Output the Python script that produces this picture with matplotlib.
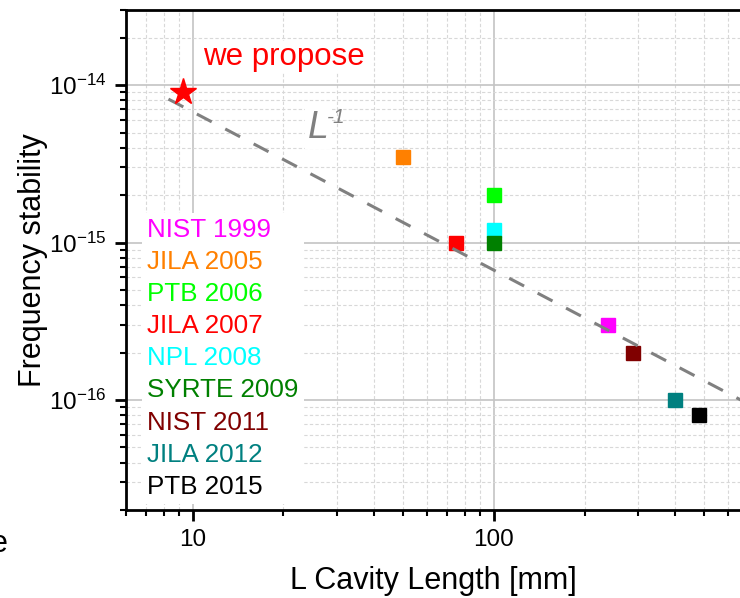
import matplotlib
matplotlib.use("Agg")
import matplotlib.pyplot as plt
from matplotlib.lines import Line2D
from matplotlib.ticker import LogLocator, NullFormatter

plt.rcParams["font.family"] = ["Liberation Sans", "DejaVu Sans"]
plt.rcParams["mathtext.fontset"] = "custom"
plt.rcParams["mathtext.rm"] = "Liberation Sans"
plt.rcParams["mathtext.it"] = "Liberation Sans:italic"


# published cavities
labels = ["NIST 1999", "JILA 2005", "PTB 2006", "JILA 2007", "NPL 2008",
          "SYRTE 2009", "NIST 2011", "JILA 2012", "PTB 2015"]
length_mm = [240, 50, 100, 75, 100, 100, 290, 400, 480]
stability = [3.0e-16, 3.5e-15, 2.0e-15, 1.0e-15, 1.2e-15, 1.0e-15,
             2.0e-16, 1.0e-16, 8.0e-17]
colors = ["#ff00ff", "#ff8000", "#00ff00", "#ff0000", "#00ffff",
          "#008000", "#800000", "#008080", "#000000"]

# proposed cavity
proposed_L = [9.3]
proposed_stab = [9.0e-15]

# L^-1 guide line (end points)
fit_L = [8.3, 660]
fit_stab = [8.15e-15, 1.0e-16]


fig = plt.figure(figsize=(7.4, 5.98), dpi=100)
ax = fig.add_axes([126 / 740, 88 / 598, 614 / 740, 500 / 598])

ax.set_xscale("log")
ax.set_yscale("log")
ax.set_xlim(6, 656)
ax.set_ylim(2e-17, 3e-14)

for L, s, c in zip(length_mm, stability, colors):
    ax.plot([L], [s], marker="s", ms=10, color=c, ls="none", zorder=3)

ax.plot(fit_L, fit_stab, color="#808080", lw=2.2, dashes=(5.5, 5), zorder=4)
ax.plot(proposed_L, proposed_stab, marker="*", ms=20, color="red",
        ls="none", zorder=5)

ax.text(10.8, 1.34e-14, "we propose", color="red", fontsize=22.5,
        ha="left", va="baseline",
        bbox=dict(fc="white", ec="none", pad=1))
ax.text(24.1, 4.6e-15, "L", color="#808080", fontsize=27, style="italic",
        ha="left", va="baseline",
        bbox=dict(fc="white", ec="none", pad=2))
ax.annotate("-1", xy=(24.1, 4.6e-15), xytext=(14, 11),
            textcoords="offset points", color="#808080", fontsize=15,
            style="italic", ha="left", va="baseline")

# grid
ax.set_axisbelow(True)
ax.grid(True, which="major", color="#c4c4c4", lw=1.2, ls="-")
ax.grid(True, which="minor", color="#d8d8d8", lw=0.8, ls=(0, (3, 2)))

# ticks
ax.set_xticks([10, 100], ["10", "100"])
ax.xaxis.set_minor_locator(LogLocator(subs=range(2, 10)))
ax.xaxis.set_minor_formatter(NullFormatter())
ax.yaxis.set_minor_locator(LogLocator(subs=range(2, 10)))
ax.yaxis.set_minor_formatter(NullFormatter())
ax.tick_params(which="major", direction="out", length=8, width=2,
               labelsize=17.5, pad=6, top=False, right=False)
ax.tick_params(which="minor", direction="out", length=4.5, width=1.5,
               top=False, right=False)

for side in ["left", "bottom", "top"]:
    ax.spines[side].set_linewidth(2)
ax.spines["right"].set_visible(False)

ax.set_xlabel("L Cavity Length [mm]", fontsize=22)
ax.xaxis.set_label_coords(0.5, -0.112)
ax.set_ylabel("Frequency stability", fontsize=22)
ax.yaxis.set_label_coords(-0.127, 0.5)

# legend, text only
handles = [Line2D([], [], ls="none") for _ in labels]
leg = ax.legend(handles, labels, loc="upper left",
                bbox_to_anchor=(0.026, 0.594), fontsize=18.7,
                handlelength=0, handletextpad=0, labelspacing=0.31,
                borderpad=0.2, borderaxespad=0, frameon=True,
                fancybox=False, edgecolor="none", framealpha=1,
                labelcolor=colors)

# cropped fragment of neighbouring label
fig.text(8 / 740, 1 - 552 / 598, "e", ha="right", va="baseline", fontsize=22)

fig.savefig("out.png", dpi=100)
